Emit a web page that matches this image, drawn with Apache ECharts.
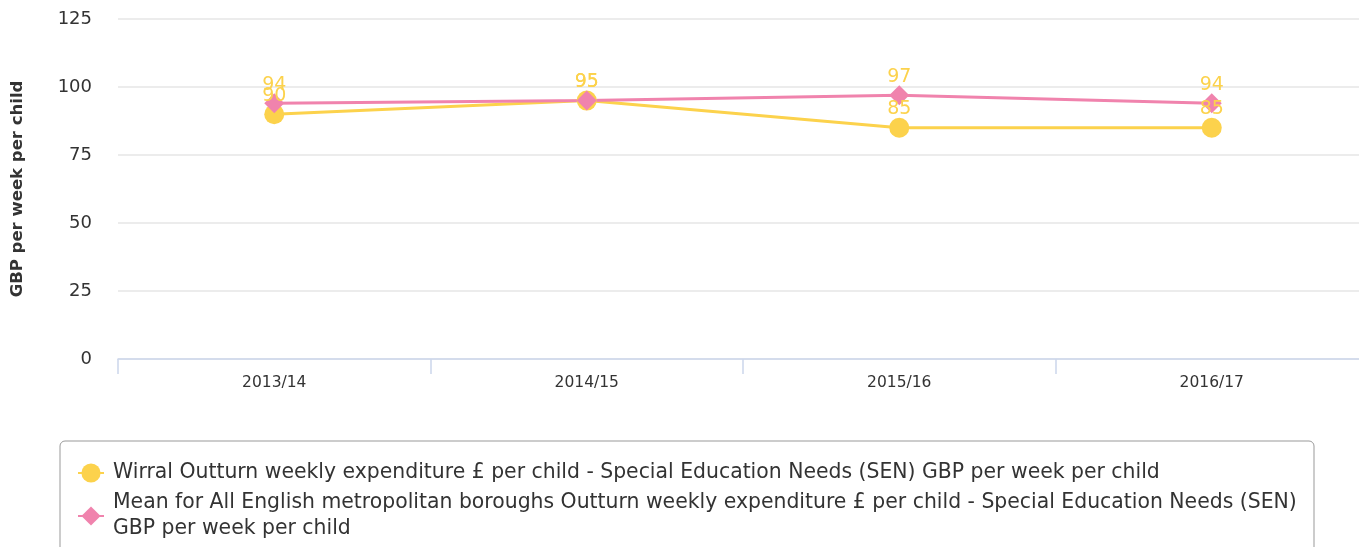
<!DOCTYPE html>
<html>
<head>
<meta charset="utf-8">
<script src="https://cdn.jsdelivr.net/npm/echarts@6/dist/echarts.min.js"></script>
<style>
  html, body { margin: 0; padding: 0; background: #fff; }
  #container { width: 1359px; height: 547px; }
</style>
</head>
<body>
<div id="container"></div>
<script>
const anios = ["2013/14", "2014/15", "2015/16", "2016/17"];
const wirral = [90, 95, 85, 85];
const media = [94, 95, 97, 94];
const nombreWirral = "Wirral Outturn weekly expenditure £ per child - Special Education Needs (SEN) GBP per week per child";
const nombreMedia = "Mean for All English metropolitan boroughs Outturn weekly expenditure £ per child - Special Education Needs (SEN) GBP per week per child";

const amarillo = "#fcd24c";
const rosa = "#f083ad";
const fuente = "'DejaVu Sans'";

let dom = document.getElementById("container");
let myChart = echarts.init(dom, null, { renderer: "canvas" });

let option = {
  animation: false,
  textStyle: { fontFamily: fuente },
  grid: { left: 118, width: 1250, top: 19, bottom: 188, outerBoundsMode: "none" },
  legend: {
    orient: "vertical",
    left: 60,
    top: 441,
    height: 300,
    padding: [19, 5, 16, 17],
    itemGap: 4,
    itemWidth: 26,
    itemHeight: 24,
    borderColor: "#999",
    borderWidth: 1,
    borderRadius: 5,
    // corta la linea larga igual que en la imagen, sin espacio al inicio
    formatter: (name) => name.replace("(SEN) GBP", (name === nombreMedia ? "(SEN)\nGBP" : "(SEN) GBP")),
    textStyle: {
      fontFamily: fuente,
      fontSize: 20.4,
      color: "#333",
      width: 1196,
      overflow: "break",
      lineHeight: 26,
      padding: [0, 0, 0, 4]
    },
    data: [nombreWirral, nombreMedia]
  },
  xAxis: {
    type: "category",
    data: anios,
    boundaryGap: true,
    axisLine: { show: true, lineStyle: { color: "#ccd6eb", width: 1.5 } },
    axisTick: { show: true, length: 15, lineStyle: { color: "#ccd6eb", width: 1.5 } },
    axisLabel: { fontFamily: fuente, fontSize: 15.5, color: "#333", margin: 16 }
  },
  yAxis: {
    type: "value",
    min: 0,
    max: 125,
    interval: 25,
    name: "GBP per week per child",
    nameLocation: "middle",
    nameGap: 92,
    nameTextStyle: { fontFamily: fuente, fontSize: 16.5, fontWeight: "bold", color: "#333" },
    axisLabel: { fontFamily: fuente, fontSize: 18, color: "#333", margin: 26 },
    splitLine: { lineStyle: { color: "#e6e6e6", width: 1.5 } }
  },
  series: [
    {
      name: nombreWirral,
      type: "line",
      data: wirral,
      color: amarillo,
      symbol: "circle",
      symbolSize: 20,
      lineStyle: { width: 3, color: amarillo },
      itemStyle: { color: amarillo },
      label: { show: true, position: "top", distance: -1, fontFamily: fuente, fontSize: 19, color: amarillo }
    },
    {
      name: nombreMedia,
      type: "line",
      data: media,
      color: rosa,
      symbol: "diamond",
      symbolSize: 20,
      lineStyle: { width: 3, color: rosa },
      itemStyle: { color: rosa },
      label: { show: true, position: "top", distance: -1, fontFamily: fuente, fontSize: 19, color: amarillo }
    }
  ]
};

myChart.setOption(option);
window.addEventListener("resize", myChart.resize);
</script>
</body>
</html>
